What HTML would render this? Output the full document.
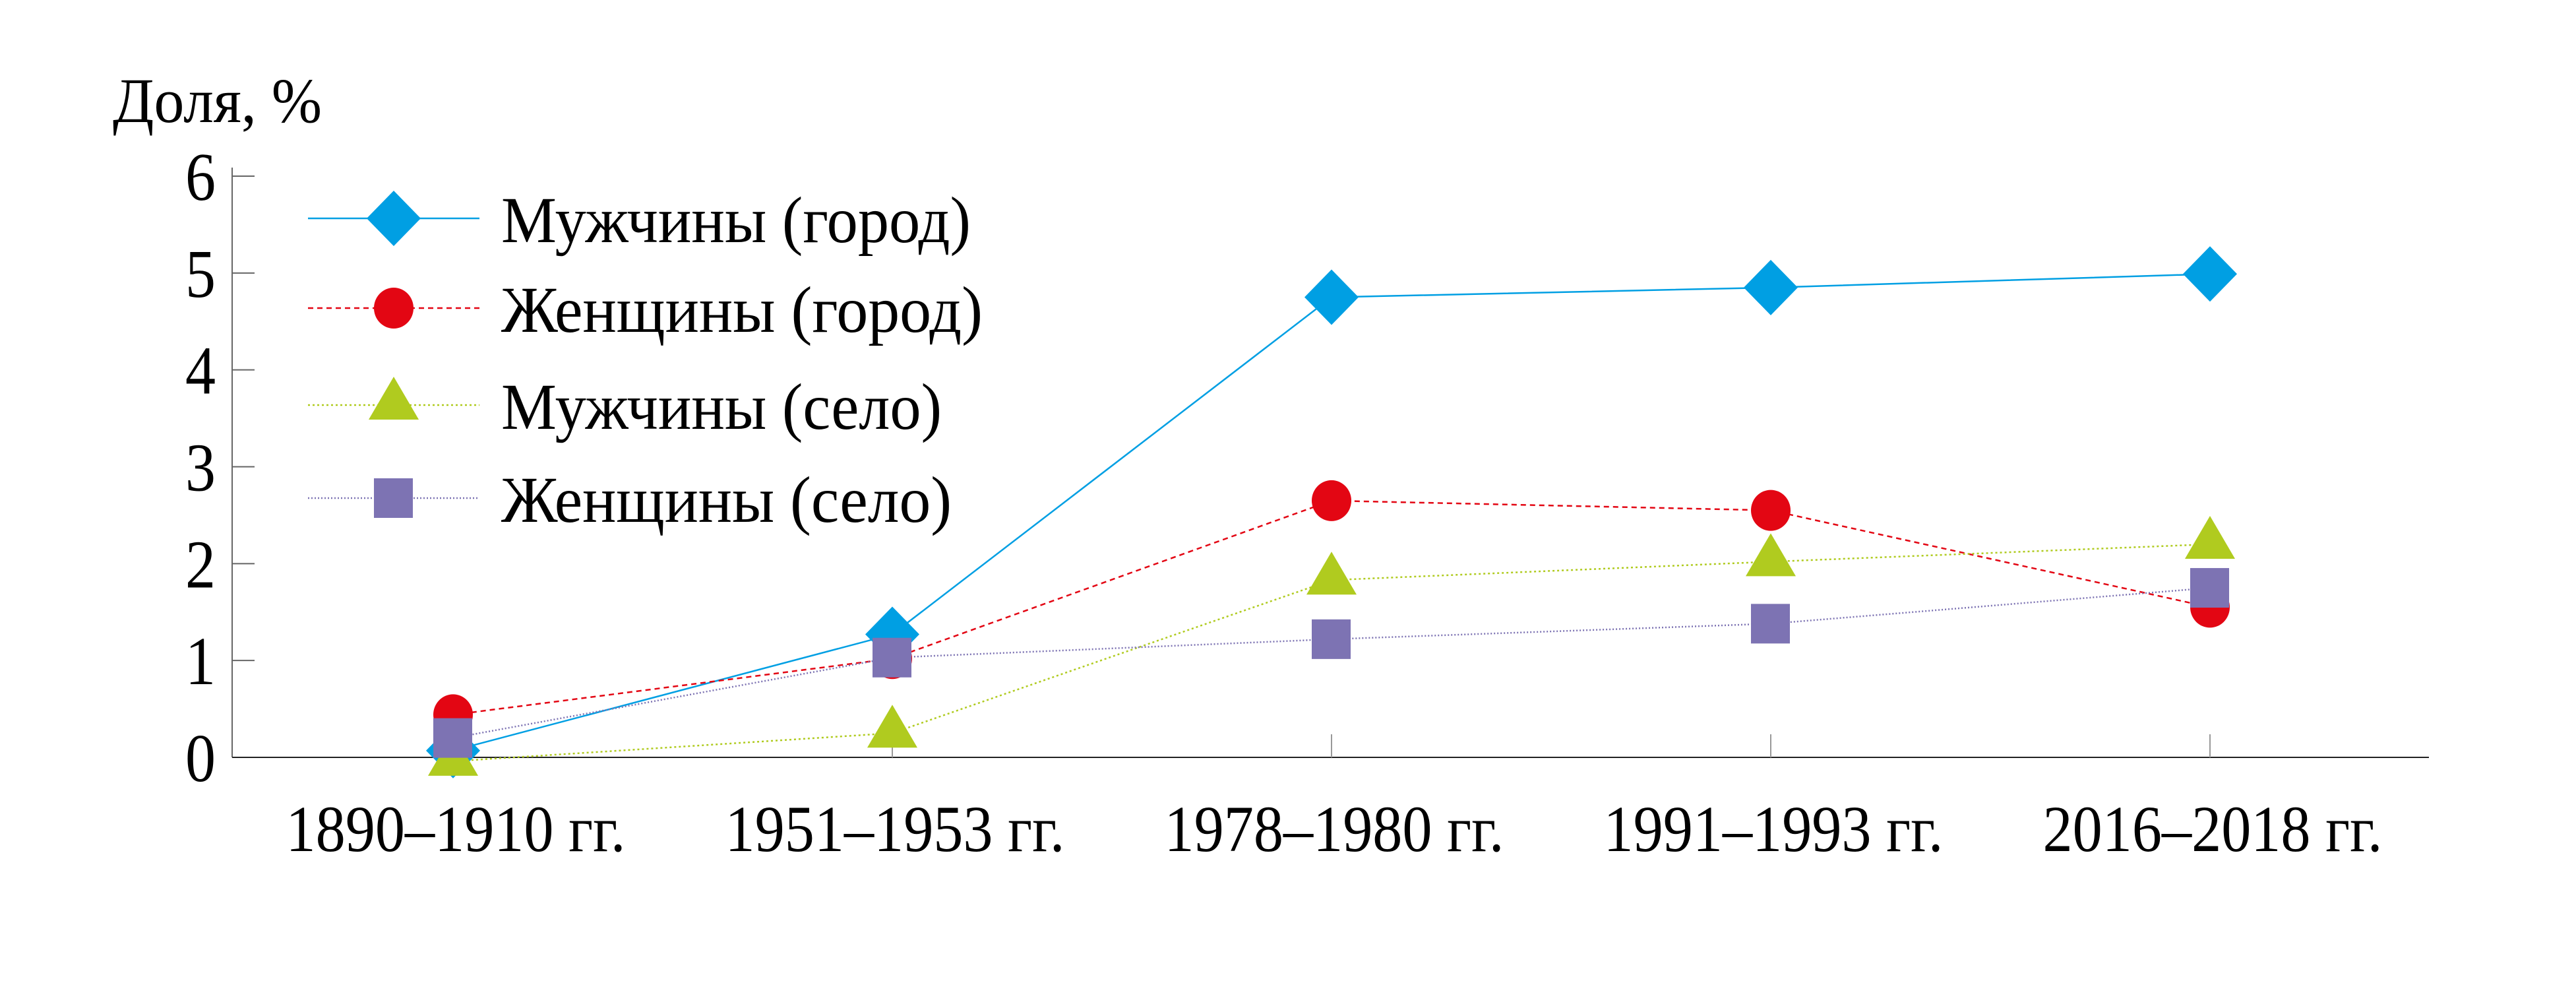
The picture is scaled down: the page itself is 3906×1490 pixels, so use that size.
<!DOCTYPE html>
<html><head><meta charset="utf-8"><style>
html,body{margin:0;padding:0;background:#fff;}
svg{display:block;}
text{font-family:"Liberation Serif","DejaVu Serif",serif;fill:#000;}
</style></head><body>
<svg id="chart" width="3906" height="1490" viewBox="0 0 3906 1490" xmlns="http://www.w3.org/2000/svg">
<g id="axes"></g>
<g id="series"></g>
<g id="legend"></g>
</svg>
<script>
const categories = ["1890–1910 гг.", "1951–1953 гг.", "1978–1980 гг.", "1991–1993 гг.", "2016–2018 гг."];
const menCity = [0.07, 1.27, 4.75, 4.85, 4.99];
const womenCity = [0.44, 1.02, 2.65, 2.55, 1.55];
const menVillage = [-0.04, 0.25, 1.83, 2.02, 2.2];
const womenVillage = [0.2, 1.03, 1.22, 1.38, 1.75];
const yTicks = [0, 1, 2, 3, 4, 5, 6];
const seriesNames = ["Мужчины (город)", "Женщины (город)", "Мужчины (село)", "Женщины (село)"];

const NS = "http://www.w3.org/2000/svg";
const X0 = 352, X1 = 3683, Y0 = 1148, Y6 = 267;
function xs(i){ return 687 + i * 666; }
function ys(v){ return Y0 - (v / 6) * (Y0 - Y6); }
function mk(tag, attrs, parent){
  const e = document.createElementNS(NS, tag);
  for (const k in attrs) e.setAttribute(k, attrs[k]);
  parent.appendChild(e);
  return e;
}
const axes = document.getElementById('axes');
const series = document.getElementById('series');
const legend = document.getElementById('legend');

let yl = mk('line', {x1:X0, y1:254, x2:X0, y2:Y0, stroke:'#666', 'stroke-width':2}, axes);


yTicks.forEach(t => {
  const y = ys(t);
  if (t > 0) {
    const tk = mk('line', {x1:X0, y1:y, x2:386, y2:y, stroke:'#666', 'stroke-width':2}, axes);
    
    
  }
  const lb = mk('text', {x:327, y:y + 36, 'font-size':104, 'text-anchor':'end', textLength:46, lengthAdjust:'spacingAndGlyphs'}, axes);
  lb.textContent = String(t);
  
  
});
const yt = mk('text', {x:171, y:185, 'font-size':96, textLength:317, lengthAdjust:'spacingAndGlyphs'}, axes);
yt.textContent = "Доля, %";



let xl = mk('line', {x1:X0, y1:Y0, x2:X1, y2:Y0, stroke:'#222', 'stroke-width':2}, axes);


categories.forEach((c, i) => {
  const x = xs(i);
  const tk = mk('line', {x1:x, y1:Y0 - 35, x2:x, y2:Y0, stroke:'#999', 'stroke-width':2}, axes);
  
  
  const lb = mk('text', {x:x + 4, y:1290, 'font-size':100, 'text-anchor':'middle', textLength:515, lengthAdjust:'spacingAndGlyphs'}, axes);
  lb.textContent = c;
  
  
});

const defs = [
  {vals: menCity, color:'#009fe3', dash:'', shape:'diamond', key:'men-city'},
  {vals: womenCity, color:'#e30613', dash:'8 6', shape:'circle', key:'women-city'},
  {vals: menVillage, color:'#b0cb1f', dash:'3 4', shape:'triangle', key:'men-village'},
  {vals: womenVillage, color:'#7d73b3', dash:'2 3', shape:'square', key:'women-village'}
];
function marker(shape, cx, cy, color, parent){
  if (shape === 'diamond') return mk('polygon', {points:`${cx},${cy-42} ${cx+41},${cy} ${cx},${cy+42} ${cx-41},${cy}`, fill:color}, parent);
  if (shape === 'circle') return mk('ellipse', {cx:cx, cy:cy, rx:30, ry:31, fill:color}, parent);
  if (shape === 'triangle') return mk('polygon', {points:`${cx},${cy-43} ${cx+38},${cy+22} ${cx-38},${cy+22}`, fill:color}, parent);
  return mk('rect', {x:cx-30, y:cy-30, width:59, height:60, fill:color}, parent);
}
defs.forEach(d => {
  const g = mk('g', {}, series);
  
  
  const pts = d.vals.map((v, i) => xs(i) + ',' + ys(v)).join(' ');
  const pl = mk('polyline', {points:pts, fill:'none', stroke:d.color, 'stroke-width':2.5, 'stroke-dasharray':d.dash}, g);
  
  
});
defs.forEach(d => {
  d.vals.forEach((v, i) => {
    const m = marker(d.shape, xs(i), ys(v), d.color, series);
    
    
  });
});

const rows = [331, 467, 614, 755];
const legendWidths = [712, 730, 668, 683];
defs.forEach((d, i) => {
  const g = mk('g', {}, legend);
  
  
  const y = rows[i];
  mk('line', {x1:467, y1:y, x2:727, y2:y, stroke:d.color, 'stroke-width':2.5, 'stroke-dasharray':d.dash}, g);
  marker(d.shape, 597, y, d.color, g);
  const t = mk('text', {x:760, y:y + 36, 'font-size':100, textLength: legendWidths[i], lengthAdjust:'spacingAndGlyphs'}, g);
  t.textContent = seriesNames[i];
});
</script>
</body></html>
